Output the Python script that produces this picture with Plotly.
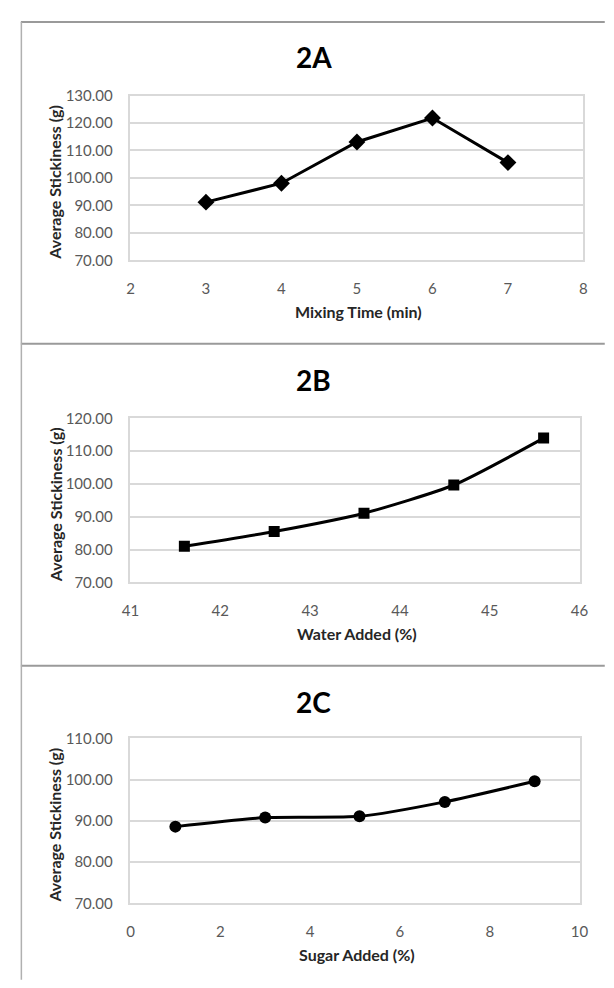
import plotly.graph_objects as go

# Page is 614x988; the browser keeps an 8px body margin, so the figure itself
# is 16px smaller and every page-pixel position is shifted by that margin.
PAGE_W, PAGE_H = 614, 988
OFF = 8
W, H = PAGE_W - 2 * OFF, PAGE_H - 2 * OFF

# ---- data ----
mixing_time = [3, 4, 5, 6, 7]
stick_a = [91.2, 98.1, 113.1, 121.8, 105.6]

water_added = [41.6, 42.6, 43.6, 44.6, 45.6]
stick_b = [81.0, 85.5, 91.1, 99.7, 114.0]

sugar_added = [1, 3, 5.1, 7, 9]
stick_c = [88.6, 90.8, 91.1, 94.6, 99.6]

panel_titles = ["2A", "2B", "2C"]
x_titles = ["Mixing Time (min)", "Water Added (%)", "Sugar Added (%)"]
y_title = "Average Stickiness (g)"

# ---- layout geometry (page pixels -> paper fractions) ----
def px_x(v):
    return (v - OFF) / W

def px_y(v):
    return 1 - (v - OFF) / H

plots = [
    dict(x0=125, x1=592, y0=87, y1=255, xr=[2, 8], xd=1, yr=[70, 130]),
    dict(x0=125, x1=588, y0=416, y1=583, xr=[41, 46], xd=1, yr=[70, 120]),
    dict(x0=125, x1=588, y0=742, y1=910, xr=[0, 10], xd=2, yr=[70, 110]),
]
title_y = [48, 377, 705]
xtitle_y = [307, 635, 962]

FONT = "Lato, Liberation Sans, sans-serif"
tick_font = dict(family=FONT, size=15, color="#595959")

fig = go.Figure()

series = [
    (mixing_time, stick_a, "diamond", "linear", 13),
    (water_added, stick_b, "square", "spline", 11),
    (sugar_added, stick_c, "circle", "spline", 12),
]

for i, (xs, ys, sym, shape, msize) in enumerate(series):
    sfx = "" if i == 0 else str(i + 1)
    fig.add_trace(go.Scatter(
        x=xs, y=ys, mode="lines+markers",
        line=dict(color="black", width=3, shape=shape, smoothing=0.6),
        marker=dict(symbol=sym, size=msize, color="black"),
        xaxis="x" + sfx, yaxis="y" + sfx, showlegend=False,
    ))

layout = dict(
    width=W, height=H,
    margin=dict(l=0, r=0, t=0, b=0),
    paper_bgcolor="white", plot_bgcolor="white",
    showlegend=False,
)

annotations = []
shapes = []
for i, p in enumerate(plots):
    sfx = "" if i == 0 else str(i + 1)
    layout["xaxis" + sfx] = dict(
        domain=[px_x(p["x0"]), px_x(p["x1"])],
        range=p["xr"], dtick=p["xd"], tick0=0,
        anchor="y" + sfx, showgrid=False, zeroline=False,
        showline=True, linecolor="#d9d9d9", linewidth=1.5, mirror=True,
        ticks="", ticklabelstandoff=14, tickfont=tick_font,
    )
    layout["yaxis" + sfx] = dict(
        domain=[px_y(p["y1"]), px_y(p["y0"])],
        range=p["yr"], dtick=10, tickformat=".2f",
        anchor="x" + sfx, showgrid=True, gridcolor="#d9d9d9", gridwidth=1.5,
        zeroline=False, showline=True, linecolor="#d9d9d9", linewidth=1.5,
        mirror=True, ticks="", ticklabelstandoff=13, tickfont=tick_font,
    )
    annotations.append(dict(
        text="<b>%s</b>" % panel_titles[i], x=px_x(314), y=px_y(title_y[i]),
        xref="paper", yref="paper", showarrow=False, xanchor="center",
        yanchor="middle", font=dict(family=FONT, size=28, color="black"),
    ))
    annotations.append(dict(
        text="<b>%s</b>" % x_titles[i], x=px_x((p["x0"] + p["x1"]) / 2 + 2),
        y=px_y(xtitle_y[i]), xref="paper", yref="paper", showarrow=False,
        xanchor="center", yanchor="middle",
        font=dict(family=FONT, size=16, color="#262626"),
    ))
    annotations.append(dict(
        text="<b>%s</b>" % y_title, x=px_x(47), y=px_y((p["y0"] + p["y1"]) / 2 + 4),
        xref="paper", yref="paper", showarrow=False, textangle=-90,
        xanchor="center", yanchor="middle",
        font=dict(family=FONT, size=16, color="#262626"),
    ))

# outer frame and separators
frame_color = "#9a9a9a"
for yy in [12, 340, 668]:
    shapes.append(dict(type="line", xref="paper", yref="paper",
                       x0=px_x(12), x1=px_x(614), y0=px_y(yy), y1=px_y(yy),
                       line=dict(color=frame_color, width=2)))
shapes.append(dict(type="line", xref="paper", yref="paper",
                   x0=px_x(12.5), x1=px_x(12.5), y0=px_y(12), y1=px_y(988),
                   line=dict(color="#b0b0b0", width=1.5)))

layout["annotations"] = annotations
layout["shapes"] = shapes
fig.update_layout(**layout)

fig.write_html("out.html", config={"displayModeBar": False})
